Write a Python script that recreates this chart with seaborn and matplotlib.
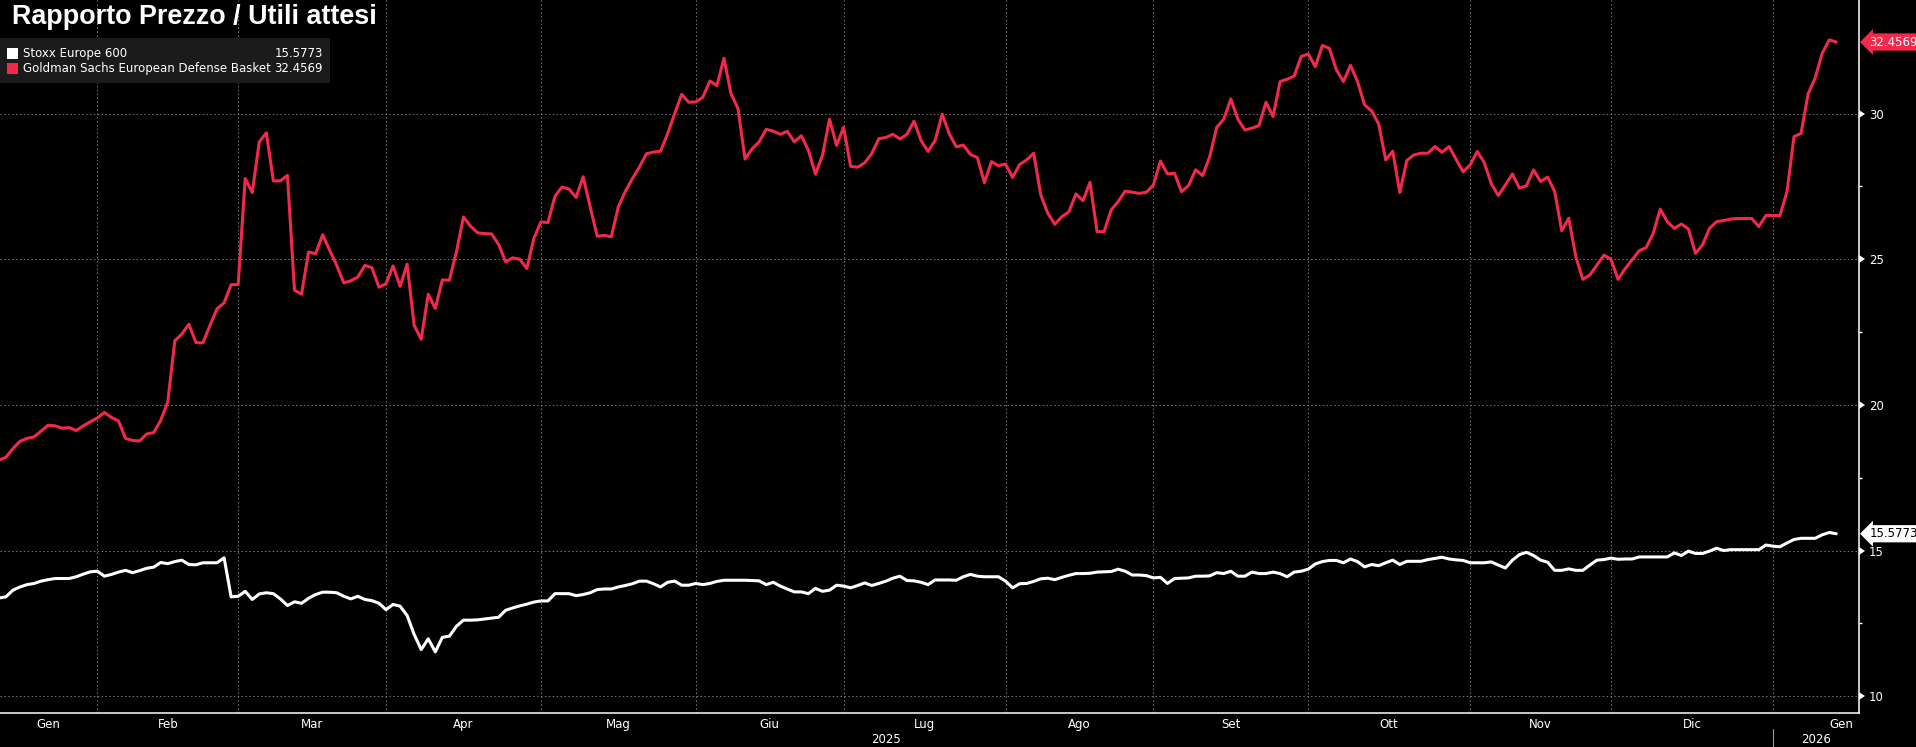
import matplotlib.pyplot as plt
import matplotlib.transforms as mtransforms
from matplotlib.patches import Rectangle
import numpy as np
import pandas as pd
import seaborn as sns

# Forward P/E, one value per business day (14 Jan 2025 - 14 Jan 2026)
dates = pd.bdate_range("2025-01-14", periods=262)

stoxx = [
    13.37, 13.41, 13.64, 13.75, 13.83, 13.87, 13.95, 14.00, 14.04, 14.04,
    14.04, 14.10, 14.19, 14.27, 14.29, 14.12, 14.18, 14.26, 14.32, 14.24,
    14.31, 14.39, 14.43, 14.59, 14.55, 14.62, 14.67, 14.52, 14.51, 14.58,
    14.58, 14.58, 14.75, 13.41, 13.43, 13.60, 13.32, 13.51, 13.55, 13.52,
    13.34, 13.11, 13.24, 13.19, 13.36, 13.49, 13.57, 13.57, 13.55, 13.43,
    13.34, 13.43, 13.32, 13.28, 13.19, 12.97, 13.15, 13.09, 12.77, 12.12,
    11.60, 11.97, 11.52, 12.02, 12.06, 12.40, 12.61, 12.61, 12.62, 12.65,
    12.68, 12.71, 12.95, 13.03, 13.10, 13.16, 13.23, 13.27, 13.27, 13.52,
    13.52, 13.52, 13.45, 13.49, 13.55, 13.66, 13.68, 13.68, 13.75, 13.80,
    13.86, 13.95, 13.95, 13.86, 13.75, 13.91, 13.95, 13.81, 13.81, 13.87,
    13.83, 13.87, 13.94, 13.98, 13.98, 13.98, 13.98, 13.97, 13.96, 13.83,
    13.91, 13.78, 13.68, 13.58, 13.58, 13.52, 13.70, 13.60, 13.64, 13.81,
    13.78, 13.72, 13.80, 13.89, 13.80, 13.87, 13.95, 14.05, 14.12, 13.97,
    13.96, 13.91, 13.83, 13.99, 13.99, 13.99, 13.98, 14.10, 14.18, 14.12,
    14.10, 14.10, 14.10, 13.95, 13.72, 13.86, 13.87, 13.94, 14.03, 14.05,
    14.00, 14.08, 14.15, 14.21, 14.21, 14.22, 14.26, 14.27, 14.28, 14.36,
    14.29, 14.16, 14.16, 14.14, 14.06, 14.08, 13.87, 14.04, 14.05, 14.06,
    14.12, 14.12, 14.13, 14.24, 14.21, 14.29, 14.12, 14.12, 14.26, 14.21,
    14.21, 14.26, 14.21, 14.10, 14.26, 14.29, 14.36, 14.54, 14.62, 14.66,
    14.66, 14.58, 14.71, 14.62, 14.44, 14.52, 14.48, 14.58, 14.67, 14.52,
    14.63, 14.63, 14.63, 14.69, 14.73, 14.77, 14.71, 14.68, 14.66, 14.58,
    14.58, 14.58, 14.61, 14.50, 14.40, 14.67, 14.86, 14.94, 14.83, 14.67,
    14.60, 14.32, 14.32, 14.37, 14.32, 14.32, 14.50, 14.67, 14.69, 14.74,
    14.70, 14.71, 14.71, 14.78, 14.78, 14.78, 14.78, 14.78, 14.92, 14.83,
    14.98, 14.90, 14.90, 14.98, 15.08, 15.00, 15.03, 15.03, 15.03, 15.03,
    15.03, 15.19, 15.15, 15.13, 15.26, 15.38, 15.42, 15.42, 15.42, 15.54,
    15.62, 15.5773,
]

defense = [
    18.10, 18.20, 18.50, 18.75, 18.85, 18.90, 19.10, 19.30, 19.28, 19.20,
    19.22, 19.12, 19.28, 19.42, 19.55, 19.74, 19.57, 19.45, 18.85, 18.78,
    18.76, 19.00, 19.05, 19.47, 20.10, 22.20, 22.43, 22.77, 22.14, 22.13,
    22.73, 23.30, 23.50, 24.13, 24.13, 27.77, 27.29, 29.03, 29.34, 27.69,
    27.69, 27.88, 23.94, 23.80, 25.25, 25.19, 25.84, 25.31, 24.79, 24.19,
    24.26, 24.39, 24.79, 24.71, 24.04, 24.16, 24.77, 24.07, 24.83, 22.73,
    22.25, 23.80, 23.31, 24.29, 24.28, 25.25, 26.45, 26.14, 25.91, 25.88,
    25.87, 25.51, 24.91, 25.05, 25.00, 24.68, 25.71, 26.28, 26.26, 27.16,
    27.48, 27.41, 27.12, 27.83, 26.80, 25.79, 25.82, 25.77, 26.80, 27.33,
    27.77, 28.17, 28.62, 28.68, 28.71, 29.31, 30.00, 30.66, 30.39, 30.40,
    30.56, 31.12, 30.96, 31.90, 30.69, 30.17, 28.44, 28.79, 29.03, 29.46,
    29.40, 29.29, 29.39, 29.03, 29.24, 28.74, 27.92, 28.57, 29.81, 28.91,
    29.53, 28.19, 28.16, 28.31, 28.63, 29.14, 29.18, 29.29, 29.13, 29.29,
    29.74, 29.08, 28.70, 29.08, 29.98, 29.31, 28.86, 28.92, 28.60, 28.49,
    27.63, 28.35, 28.21, 28.27, 27.81, 28.25, 28.41, 28.64, 27.21, 26.58,
    26.20, 26.46, 26.63, 27.24, 27.01, 27.64, 25.95, 25.95, 26.69, 26.98,
    27.34, 27.30, 27.26, 27.30, 27.55, 28.37, 27.93, 27.95, 27.32, 27.53,
    28.07, 27.87, 28.52, 29.53, 29.81, 30.50, 29.81, 29.44, 29.50, 29.59,
    30.39, 29.90, 31.10, 31.18, 31.29, 31.96, 32.05, 31.61, 32.34, 32.24,
    31.50, 31.10, 31.66, 31.10, 30.30, 30.09, 29.65, 28.41, 28.71, 27.29,
    28.39, 28.58, 28.64, 28.64, 28.87, 28.67, 28.87, 28.43, 28.00, 28.24,
    28.70, 28.32, 27.59, 27.19, 27.55, 27.93, 27.44, 27.52, 28.07, 27.67,
    27.82, 27.33, 25.98, 26.41, 25.09, 24.31, 24.46, 24.80, 25.14, 25.00,
    24.31, 24.67, 24.98, 25.29, 25.40, 25.89, 26.72, 26.29, 26.06, 26.21,
    26.04, 25.20, 25.49, 26.06, 26.29, 26.33, 26.38, 26.40, 26.40, 26.40,
    26.12, 26.50, 26.50, 26.50, 27.32, 29.21, 29.32, 30.68, 31.22, 32.07,
    32.53, 32.4569,
]

series_names = ["Stoxx Europe 600", "Goldman Sachs European Defense Basket"]
series_colors = ["#ffffff", "#f2294b"]
last_values = ["15.5773", "32.4569"]
month_names = ["Gen", "Feb", "Mar", "Apr", "Mag", "Giu",
               "Lug", "Ago", "Set", "Ott", "Nov", "Dic"]
y_major = [10, 15, 20, 25, 30]
y_minor = [12.5, 17.5, 22.5, 27.5]
title = "Rapporto Prezzo / Utili attesi"

sns.set_style("dark")
plt.rcParams["font.family"] = ["DejaVu Sans"]

df = pd.DataFrame({
    "day": np.tile(np.arange(len(dates)), 2),
    "value": stoxx + defense,
    "series": np.repeat(series_names, len(dates)),
})

W, H = 1916, 747
fig = plt.figure(figsize=(W / 100, H / 100), dpi=100, facecolor="black")
ax = fig.add_axes([0, 34.5 / H, 1859 / W, 712.5 / H])
ax.set_facecolor("black")

sns.lineplot(data=df, x="day", y="value", hue="series", palette=series_colors,
             linewidth=2.2, legend=False, ax=ax)

x0, x1 = 0.17, 264.23
ax.set_xlim(x0, x1)
ax.set_ylim(9.44, 33.9)
ax.set_xlabel("")
ax.set_ylabel("")

# month boundaries (first business day of each month)
month_start = np.flatnonzero(np.r_[True, dates.month[1:] != dates.month[:-1]])[1:]
ax.set_xticks(month_start)
ax.set_xticklabels([])
ax.tick_params(axis="x", colors="white", length=2.2, width=1, direction="out")

ax.yaxis.tick_right()
ax.set_yticks(y_major)
ax.set_yticks(y_minor, minor=True)
ax.tick_params(axis="y", which="major", colors="white", labelsize=8.5,
               length=4.5, width=1, pad=2.5, direction="out")
ax.tick_params(axis="y", which="minor", colors="white", length=2.4, width=1,
               direction="out")
for t in ax.yaxis.get_major_ticks():
    t.tick2line.set_marker(9)
    t.tick2line.set_markersize(6)
    t.tick2line.set_markeredgewidth(0)

ax.grid(True, which="major", color="#7a7a7a", linestyle=(0, (1.5, 2.5)), linewidth=0.7)

for side in ["left", "top"]:
    ax.spines[side].set_visible(False)
for side in ["right", "bottom"]:
    ax.spines[side].set_color("white")
    ax.spines[side].set_linewidth(1.1)

# month and year labels under the axis
trans = mtransforms.blended_transform_factory(ax.transData, ax.transAxes)
bounds = [x0] + list(month_start) + [x1]
for k in range(len(bounds) - 1):
    month = dates[0].month if k == 0 else dates[bounds[k]].month
    if k == len(bounds) - 2:
        ax.text(x1 - 0.85, -0.0165, month_names[month - 1], transform=trans,
                ha="right", va="center", color="white", fontsize=8.5)
    else:
        ax.text((bounds[k] + bounds[k + 1]) / 2, -0.0165, month_names[month - 1],
                transform=trans, ha="center", va="center", color="white", fontsize=8.5)

year_start = month_start[dates[month_start].month == 1][0]
ax.text((x0 + year_start) / 2, -0.0385, str(dates[0].year), transform=trans,
        ha="center", va="center", color="white", fontsize=8.5)
ax.text((year_start + x1) / 2, -0.0385, str(dates[-1].year), transform=trans,
        ha="center", va="center", color="white", fontsize=8.5)
ax.axvline(year_start, ymin=-0.0484, ymax=-0.0232, color="#9a9a9a",
           linewidth=0.8, clip_on=False)

# last value tags on the right axis
ytrans = mtransforms.blended_transform_factory(ax.transAxes, ax.transData)
last = [stoxx[-1], defense[-1]]
for val, lab, col in zip(last, last_values, series_colors):
    txt_col = "black" if col == "#ffffff" else "white"
    ax.text(1.0055, val, lab, transform=ytrans, ha="left", va="center",
            color=txt_col, fontsize=8.5, clip_on=False,
            bbox=dict(boxstyle="larrow,pad=0.18", fc=col, ec="none"))

# title and legend box
fig.text(12 / W, 1 - 24 / H, title, color="white", fontsize=19.4,
         fontweight="bold", family=["Liberation Sans", "DejaVu Sans"], va="baseline")

fig.patches.append(Rectangle((0, 1 - 83.3 / H), 330 / W, 45 / H,
                             transform=fig.transFigure, fc="#1b1b1b", ec="none"))
rows_y = [53.7, 68.5]
for name, col, val, ry in zip(series_names, series_colors, last_values, rows_y):
    fig.patches.append(Rectangle((7 / W, 1 - (ry + 5.5) / H), 11 / W, 11 / H,
                                 transform=fig.transFigure, fc=col, ec="none"))
    fig.text(23 / W, 1 - ry / H, name, color="white", fontsize=8.5, va="center")
    fig.text(323 / W, 1 - ry / H, val, color="white", fontsize=8.5, va="center", ha="right")

fig.savefig("out.png", dpi=100, facecolor="black")
